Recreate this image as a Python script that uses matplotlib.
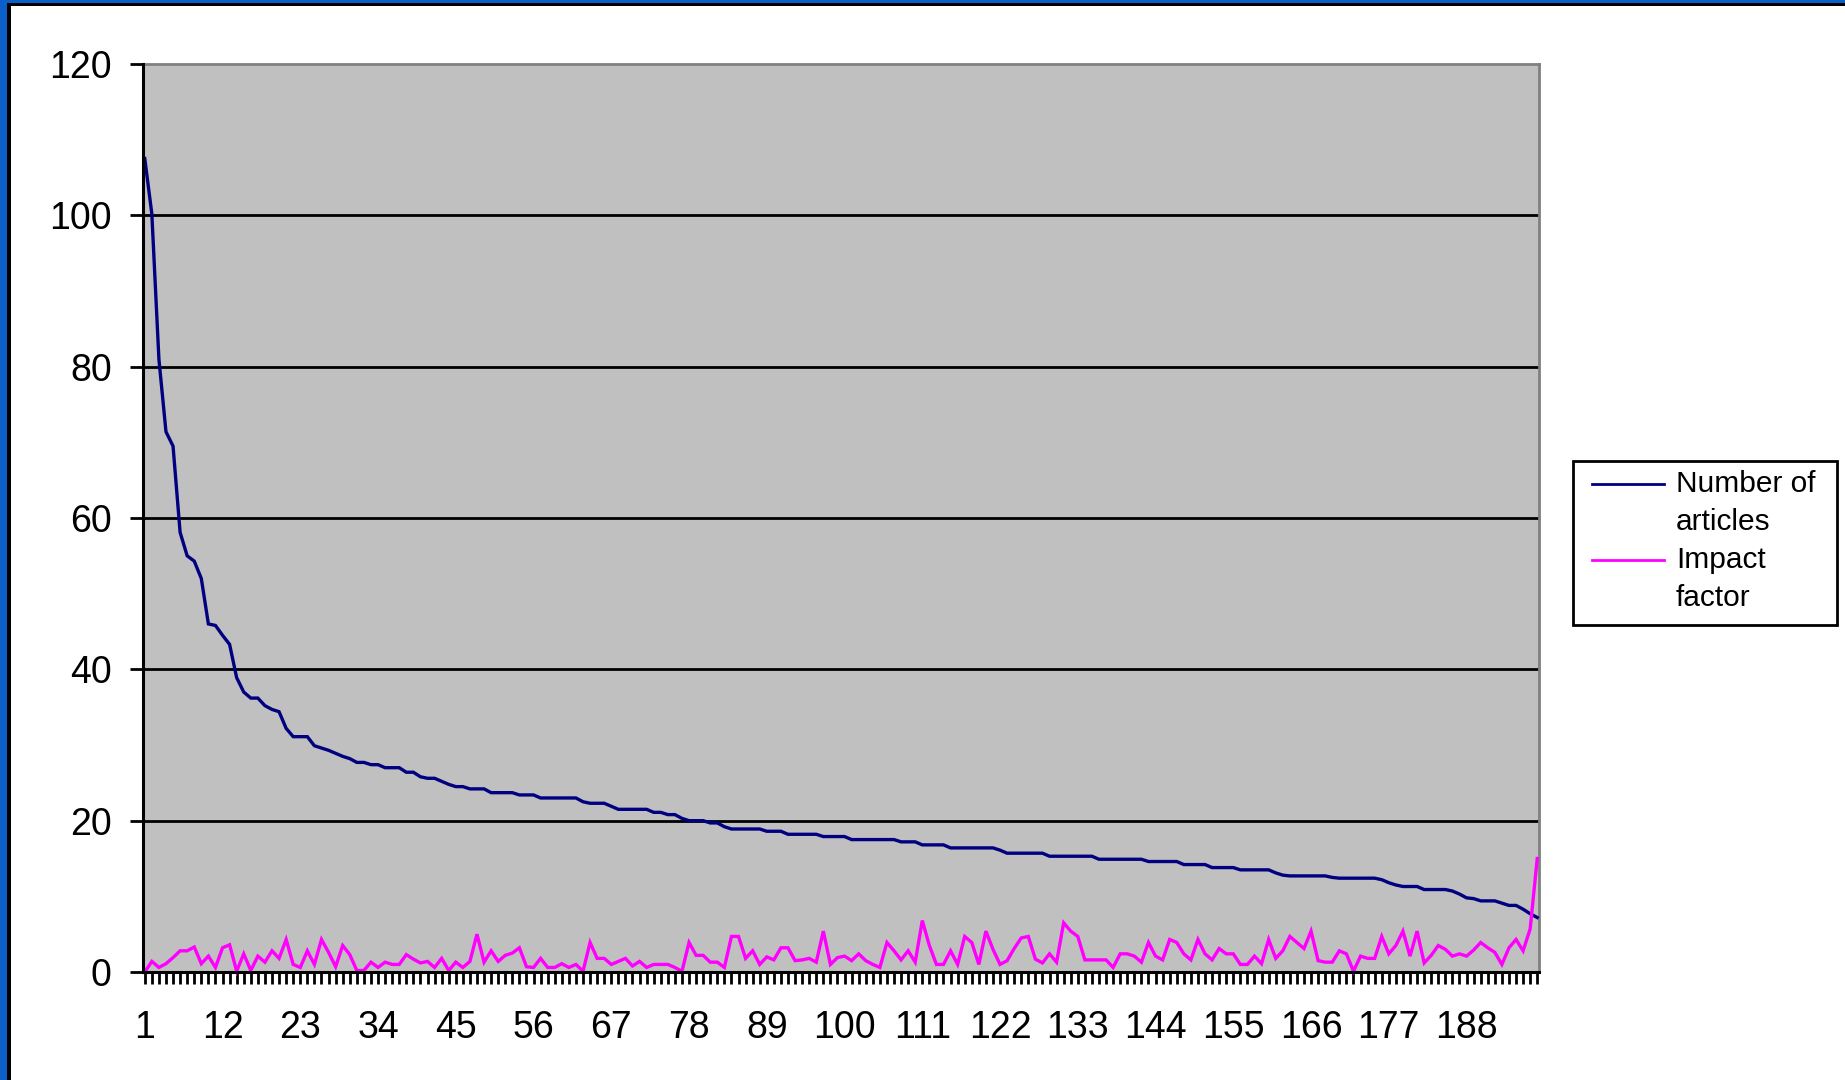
import matplotlib
matplotlib.use('Agg')
import matplotlib.pyplot as plt
from matplotlib.patches import Rectangle
from matplotlib.lines import Line2D

plt.rcParams['font.family'] = ['Liberation Sans', 'DejaVu Sans']

# ---------------- data ----------------
categories = list(range(1, 199))

articles = [
    107.5, 100.2, 81.0, 71.4, 69.5, 58.1, 55.0, 54.3, 52.0, 46.0,
    45.8, 44.5, 43.3, 38.9, 37.0, 36.2, 36.2, 35.2, 34.7, 34.4,
    32.2, 31.1, 31.1, 31.1, 29.9, 29.6, 29.3, 28.9, 28.5, 28.2,
    27.7, 27.7, 27.4, 27.4, 27.0, 27.0, 27.0, 26.4, 26.4, 25.8,
    25.6, 25.6, 25.2, 24.8, 24.5, 24.5, 24.2, 24.2, 24.2, 23.7,
    23.7, 23.7, 23.7, 23.4, 23.4, 23.4, 23.0, 23.0, 23.0, 23.0,
    23.0, 23.0, 22.5, 22.3, 22.3, 22.3, 21.9, 21.5, 21.5, 21.5,
    21.5, 21.5, 21.1, 21.1, 20.8, 20.8, 20.3, 20.0, 20.0, 20.0,
    19.7, 19.7, 19.2, 18.9, 18.9, 18.9, 18.9, 18.9, 18.6, 18.6,
    18.6, 18.2, 18.2, 18.2, 18.2, 18.2, 17.9, 17.9, 17.9, 17.9,
    17.5, 17.5, 17.5, 17.5, 17.5, 17.5, 17.5, 17.2, 17.2, 17.2,
    16.8, 16.8, 16.8, 16.8, 16.4, 16.4, 16.4, 16.4, 16.4, 16.4,
    16.4, 16.1, 15.7, 15.7, 15.7, 15.7, 15.7, 15.7, 15.3, 15.3,
    15.3, 15.3, 15.3, 15.3, 15.3, 14.9, 14.9, 14.9, 14.9, 14.9,
    14.9, 14.9, 14.6, 14.6, 14.6, 14.6, 14.6, 14.2, 14.2, 14.2,
    14.2, 13.8, 13.8, 13.8, 13.8, 13.5, 13.5, 13.5, 13.5, 13.5,
    13.1, 12.8, 12.7, 12.7, 12.7, 12.7, 12.7, 12.7, 12.5, 12.4,
    12.4, 12.4, 12.4, 12.4, 12.4, 12.2, 11.8, 11.5, 11.3, 11.3,
    11.3, 10.9, 10.9, 10.9, 10.9, 10.7, 10.3, 9.8, 9.7, 9.4,
    9.4, 9.4, 9.1, 8.8, 8.8, 8.3, 7.7, 7.2,
]

impact = [
    0.0, 1.4, 0.6, 1.1, 1.9, 2.8, 2.8, 3.3, 1.1, 2.1,
    0.6, 3.2, 3.6, 0.1, 2.4, 0.2, 2.1, 1.3, 2.8, 1.8,
    4.3, 1.0, 0.6, 2.8, 1.0, 4.3, 2.6, 0.7, 3.5, 2.3,
    0.2, 0.2, 1.3, 0.6, 1.3, 1.0, 1.0, 2.3, 1.7, 1.2,
    1.4, 0.6, 1.8, 0.2, 1.3, 0.6, 1.4, 5.0, 1.3, 2.8,
    1.4, 2.2, 2.5, 3.2, 0.7, 0.6, 1.8, 0.6, 0.6, 1.1,
    0.6, 1.0, 0.1, 3.9, 1.8, 1.8, 1.0, 1.4, 1.8, 0.8,
    1.4, 0.6, 1.0, 1.0, 1.0, 0.6, 0.1, 3.9, 2.2, 2.2,
    1.3, 1.3, 0.6, 4.7, 4.7, 1.8, 2.8, 1.0, 2.0, 1.6,
    3.2, 3.2, 1.5, 1.6, 1.8, 1.3, 5.4, 1.0, 1.9, 2.1,
    1.5, 2.4, 1.5, 1.0, 0.6, 3.9, 2.8, 1.6, 2.8, 1.3,
    6.8, 3.5, 1.0, 1.0, 2.8, 1.0, 4.7, 3.9, 1.0, 5.4,
    3.0, 1.0, 1.5, 3.1, 4.5, 4.7, 1.7, 1.2, 2.4, 1.3,
    6.5, 5.4, 4.7, 1.6, 1.6, 1.6, 1.6, 0.6, 2.4, 2.4,
    2.1, 1.3, 3.9, 2.1, 1.6, 4.3, 3.9, 2.4, 1.6, 4.3,
    2.4, 1.6, 3.1, 2.4, 2.4, 1.0, 1.0, 2.1, 1.1, 4.3,
    1.8, 2.8, 4.7, 3.9, 3.1, 5.4, 1.5, 1.3, 1.3, 2.8,
    2.4, 0.1, 2.1, 1.8, 1.8, 4.7, 2.4, 3.5, 5.4, 2.1,
    5.4, 1.2, 2.2, 3.5, 3.0, 2.1, 2.4, 2.1, 2.9, 3.9,
    3.2, 2.6, 1.0, 3.2, 4.3, 2.8, 5.7, 15.0,
]

x_tick_labels = ['1', '12', '23', '34', '45', '56', '67', '78', '89', '100',
                 '111', '122', '133', '144', '155', '166', '177', '188']
y_ticks = [0, 20, 40, 60, 80, 100, 120]
series_names = ['Number of\narticles', 'Impact\nfactor']
series_colors = ['#000080', '#FF00FF']

# ---------------- figure ----------------
W, H = 1845, 1080
fig = plt.figure(figsize=(W / 100, H / 100), dpi=100)
fig.patch.set_facecolor('white')

def fx(px):
    return px / W

def fy(py):
    return 1 - py / H

# slide frame (blue border + black inner line)
fig.add_artist(Rectangle((0, 0), fx(7), 1, transform=fig.transFigure,
                         facecolor='#0A5FC8', edgecolor='none', zorder=0))
fig.add_artist(Rectangle((0, fy(3)), 1, 3 / H, transform=fig.transFigure,
                         facecolor='#0A5FC8', edgecolor='none', zorder=0))
fig.add_artist(Rectangle((fx(7), 0), 3.5 / W, fy(3), transform=fig.transFigure,
                         facecolor='black', edgecolor='none', zorder=0))
fig.add_artist(Rectangle((fx(7), fy(6)), 1, 3 / H, transform=fig.transFigure,
                         facecolor='black', edgecolor='none', zorder=0))

left, right, top, bottom = 143, 1539, 64, 972
ax = fig.add_axes([fx(left), fy(bottom), (right - left) / W, (bottom - top) / H])
ax.set_facecolor('#C0C0C0')

ax.plot(categories, articles, color=series_colors[0], lw=2.4, zorder=3,
        clip_on=False, solid_joinstyle='miter')
ax.plot(categories, impact, color=series_colors[1], lw=2.4, zorder=4,
        clip_on=False, solid_joinstyle='miter')

ax.set_xlim(categories[0] - 0.25, categories[-1] + 0.25)
ax.set_ylim(y_ticks[0], y_ticks[-1])

ax.set_yticks(y_ticks)
ax.set_yticklabels([str(v) for v in y_ticks])
ax.set_xticks(categories)
ax.set_xticklabels([str(c) if str(c) in x_tick_labels else '' for c in categories])

for v in y_ticks[1:-1]:
    ax.axhline(v, color='black', lw=2.0, zorder=1)

ax.tick_params(axis='x', direction='out', length=8.5, width=2, colors='black',
               labelsize=27, pad=19)
ax.tick_params(axis='y', direction='out', length=9.5, width=2, colors='black',
               labelsize=27, pad=13)

for s in ['left', 'bottom']:
    ax.spines[s].set_color('black')
    ax.spines[s].set_linewidth(2.2)
for s in ['top', 'right']:
    ax.spines[s].set_color('#808080')
    ax.spines[s].set_linewidth(2.0)
ax.spines['left'].set_zorder(5)
ax.spines['bottom'].set_zorder(5)

# legend box
lx0, lx1, ly0, ly1 = 1573, 1837, 461, 625
fig.add_artist(Rectangle((fx(lx0), fy(ly1)), (lx1 - lx0) / W, (ly1 - ly0) / H,
                         transform=fig.transFigure, facecolor='white',
                         edgecolor='black', lw=2, zorder=5))
line_y = [484, 560]
for name, col, yy in zip(series_names, series_colors, line_y):
    fig.add_artist(Line2D([fx(1592), fx(1664)], [fy(yy), fy(yy)],
                          transform=fig.transFigure, color=col, lw=2, zorder=6))
    l1, l2 = name.split('\n')
    fig.text(fx(1676), fy(yy), l1, fontsize=21.5, va='center', ha='left', zorder=6)
    fig.text(fx(1676), fy(yy + 38), l2, fontsize=21.5, va='center', ha='left', zorder=6)

fig.savefig('out.png', dpi=100, facecolor=fig.get_facecolor())
